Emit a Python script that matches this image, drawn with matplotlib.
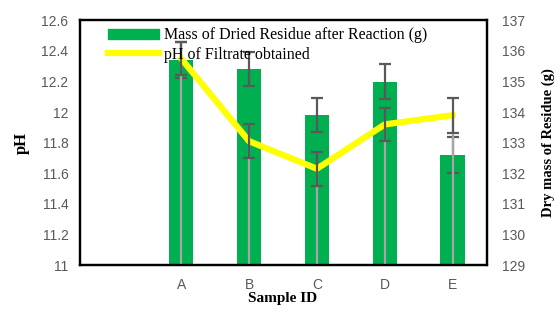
import matplotlib
matplotlib.use("Agg")
import matplotlib.pyplot as plt
import numpy as np

# sample slots: the first slot is left empty in the original chart
samples = ["", "A", "B", "C", "D", "E"]
mass_g = [np.nan, 135.7, 135.4, 133.9, 135.0, 132.6]
mass_err = [np.nan, 0.59, 0.56, 0.56, 0.57, 0.59]
ph = [np.nan, 12.35, 11.81, 11.63, 11.92, 11.98]
ph_err = [np.nan, 0.11, 0.11, 0.11, 0.11, 0.115]

SERIF = "Liberation Serif"
SANS = "Liberation Sans"
TICK_GREY = "#595959"

fig = plt.figure(figsize=(5.56, 3.09), dpi=100)
ax = fig.add_axes([0.143, 0.142, 0.732, 0.792])  # mass axis (drawn first)
axp = ax.twinx()                                   # pH axis (drawn on top)

x = np.arange(len(samples))
ax.bar(x, mass_g, width=0.36, bottom=0, color="#00B050", zorder=1)
ax.set_ylim(129, 137)
ax.set_xlim(-0.5, len(samples) - 0.5)

# drop lines from the pH points down to the axis
axp.vlines(x, 11, ph, color="#A6A6A6", lw=1.6, zorder=2)
axp.plot(x, ph, color="#FFFF00", lw=4.5, solid_joinstyle="round", zorder=3,
         label="pH of Filtrate obtained")
ax.errorbar(x, mass_g, yerr=mass_err, fmt="none", ecolor=TICK_GREY,
            elinewidth=1.6, capsize=4.5, capthick=1.6, zorder=4)
axp.errorbar(x, ph, yerr=ph_err, fmt="none", ecolor=TICK_GREY,
             elinewidth=1.6, capsize=4.5, capthick=1.6, zorder=4)
axp.set_ylim(11, 12.6)

# pH on the left, mass on the right
axp.yaxis.tick_left()
axp.yaxis.set_label_position("left")
ax.yaxis.tick_right()
ax.yaxis.set_label_position("right")

axp.set_yticks(np.arange(11, 12.61, 0.2))
axp.set_yticklabels(["11", "11.2", "11.4", "11.6", "11.8", "12", "12.2", "12.4", "12.6"])
ax.set_yticks(np.arange(129, 137.1, 1))
ax.set_xticks(x)
ax.set_xticklabels(samples)

for a in (ax, axp):
    a.tick_params(length=0, labelsize=10, labelcolor=TICK_GREY, pad=8)
    for lbl in a.get_xticklabels() + a.get_yticklabels():
        lbl.set_fontfamily(SANS)
    for sp in a.spines.values():
        sp.set_linewidth(1.6)
        sp.set_color("black")
ax.tick_params(axis="x", pad=9)
ax.tick_params(axis="y", pad=11)

axp.set_ylabel("pH", family=SERIF, fontweight="bold", fontsize=12, labelpad=8)
ax.set_ylabel("Dry mass of Residue (g)", family=SERIF, fontweight="bold",
              fontsize=10.5, labelpad=12)
ax.set_xlabel("Sample ID", family=SERIF, fontweight="bold", fontsize=11, labelpad=0)

bar_handle = plt.Rectangle((0, 0), 1, 1, color="#00B050")
line_handle = plt.Line2D([], [], color="#FFFF00", lw=4.5)
axp.legend([bar_handle, line_handle],
           ["Mass of Dried Residue after Reaction (g)", "pH of Filtrate obtained"],
           loc="upper left", bbox_to_anchor=(0.035, 1.03), frameon=False,
           prop={"family": SERIF, "size": 11.5}, handlelength=3.2,
           handleheight=0.6, labelspacing=0.2, handletextpad=0.3)

fig.savefig("out.png", dpi=100)
